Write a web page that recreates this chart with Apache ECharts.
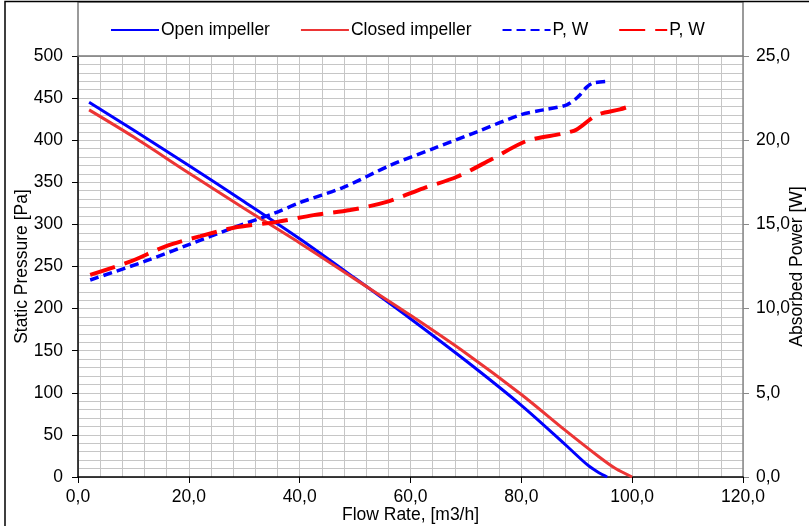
<!DOCTYPE html>
<html>
<head>
<meta charset="utf-8">
<script src="https://cdn.jsdelivr.net/npm/echarts@6/dist/echarts.min.js"></script>
<style>
html,body{margin:0;padding:0;background:#fff;}
#chart{width:809px;height:526px;}
</style>
</head>
<body>
<div id="chart"></div>
<script>
// ---- data ----
const seriesNames = ['Open impeller', 'Closed impeller', 'P, W', 'P, W '];
const xTicks = [0, 20, 40, 60, 80, 100, 120];

const openFlow     = [2, 10, 20, 30, 40, 50, 60, 70, 80, 88, 92, 94, 95.5];
const openPressure = [445, 412, 370, 327, 283, 236, 188, 138, 85, 38, 14, 5, 0];

const closedFlow     = [2, 10, 20, 30, 40, 50, 60, 70, 80, 88, 94, 97, 100];
const closedPressure = [436, 404, 361, 319, 278, 235, 192, 147, 98, 55, 24, 10, 0];

const openPowerFlow = [2.2, 12, 20, 28, 35.3, 40.1, 47.9, 56.3, 64.1, 72, 79.8, 84, 88.2, 90.3, 91.8, 93, 95.7];
const openPower     = [11.7, 12.8, 13.8, 14.8, 15.65, 16.3, 17.2, 18.5, 19.5, 20.5, 21.5, 21.8, 22.1, 22.6, 23.15, 23.4, 23.5];

const closedPowerFlow = [2.2, 9.5, 15.8, 22.1, 28.1, 35.9, 42.5, 49.1, 55.7, 62.3, 68.4, 74.7, 81, 87.6, 90, 93.6, 97.8, 100.2];
const closedPower     = [12.0, 12.8, 13.7, 14.3, 14.8, 15.15, 15.55, 15.85, 16.34, 17.14, 17.83, 18.88, 19.96, 20.4, 20.64, 21.49, 21.83, 22.09];

function pairs(xs, ys) { return xs.map((x, i) => [x, ys[i]]); }
function comma1(v) { return v.toFixed(1).replace('.', ','); }

const FONT = 'Liberation Sans, Arial, sans-serif';
const FS = 17.5;
const GRIDC = '#c6c6c6';

const chart = echarts.init(document.getElementById('chart'), null, {renderer: 'canvas'});
chart.setOption({
  animation: false,
  backgroundColor: '#fff',
  textStyle: {fontFamily: FONT, color: '#000'},
  grid: {left: 78, right: 66, top: 56, bottom: 49, containLabel: false, outerBoundsMode: 'none'},
  legend: {
    left: 105, top: 16,
    itemWidth: 48, itemHeight: 14, itemGap: 30,
    itemStyle: {opacity: 0},
    textStyle: {fontFamily: FONT, fontSize: FS, color: '#000', padding: [0, 0, 0, -3]},
    formatter: n => n.trim(),
    data: seriesNames
  },
  xAxis: {
    type: 'value', min: 0, max: 120, interval: 20,
    name: 'Flow Rate, [m3/h]', nameLocation: 'middle', nameGap: 29, nameMoveOverlap: false,
    nameTextStyle: {fontFamily: FONT, fontSize: FS, color: '#000'},
    axisLine: {show: true, lineStyle: {color: '#000', width: 1.5}},
    axisTick: {show: true, length: 6, lineStyle: {color: '#000'}},
    axisLabel: {fontFamily: FONT, fontSize: FS, color: '#000', margin: 11, formatter: v => comma1(v)},
    splitLine: {show: true, lineStyle: {color: GRIDC, width: 1}},
    minorTick: {show: false, splitNumber: 5},
    minorSplitLine: {show: true, lineStyle: {color: GRIDC, width: 1}}
  },
  yAxis: [{
    type: 'value', min: 0, max: 500, interval: 50,
    name: 'Static Pressure [Pa]', nameLocation: 'middle', nameGap: 47, nameMoveOverlap: false,
    nameTextStyle: {fontFamily: FONT, fontSize: FS, color: '#000'},
    axisLine: {show: true, lineStyle: {color: '#000', width: 1.5}},
    axisTick: {show: true, length: 6, lineStyle: {color: '#000'}},
    axisLabel: {fontFamily: FONT, fontSize: FS, color: '#000', margin: 15},
    splitLine: {show: true, lineStyle: {color: GRIDC, width: 1}},
    minorTick: {show: false, splitNumber: 5},
    minorSplitLine: {show: true, lineStyle: {color: GRIDC, width: 1}}
  }, {
    type: 'value', min: 0, max: 25, interval: 5, position: 'right',
    name: 'Absorbed Power [W]', nameLocation: 'middle', nameGap: 45, nameMoveOverlap: false,
    nameTextStyle: {fontFamily: FONT, fontSize: FS, color: '#000'},
    axisLine: {show: true, lineStyle: {color: '#888', width: 1.5}},
    axisTick: {show: true, length: 6, lineStyle: {color: '#888'}},
    axisLabel: {fontFamily: FONT, fontSize: FS, color: '#000', margin: 13, formatter: v => comma1(v)},
    splitLine: {show: false}
  }],
  series: [{
    name: seriesNames[0], type: 'line', yAxisIndex: 0, smooth: 0.3,
    symbol: 'none', color: '#0000ff',
    lineStyle: {color: '#0000ff', width: 3},
    data: pairs(openFlow, openPressure)
  }, {
    name: seriesNames[1], type: 'line', yAxisIndex: 0, smooth: 0.3,
    symbol: 'none', color: '#ec3535',
    lineStyle: {color: '#ec3535', width: 3},
    data: pairs(closedFlow, closedPressure)
  }, {
    name: seriesNames[2], type: 'line', yAxisIndex: 1, smooth: 0.3,
    symbol: 'none', color: '#0000ff',
    lineStyle: {color: '#0000ff', width: 3.5, type: [9, 5]},
    data: pairs(openPowerFlow, openPower)
  }, {
    name: seriesNames[3], type: 'line', yAxisIndex: 1, smooth: 0.3,
    symbol: 'none', color: '#ff0000',
    lineStyle: {color: '#ff0000', width: 4, type: [26, 10]},
    data: pairs(closedPowerFlow, closedPower)
  }],
  graphic: [{
    type: 'rect', silent: true, z: 100,
    shape: {x: 78, y: 2, width: 665, height: 54},
    style: {fill: 'none', stroke: '#7a7a7a', lineWidth: 1.5}
  }, {
    type: 'rect', silent: true, z: 100,
    shape: {x: 5, y: 1.5, width: 900, height: 600},
    style: {fill: 'none', stroke: '#000', lineWidth: 1.5}
  }]
});
</script>
</body>
</html>
